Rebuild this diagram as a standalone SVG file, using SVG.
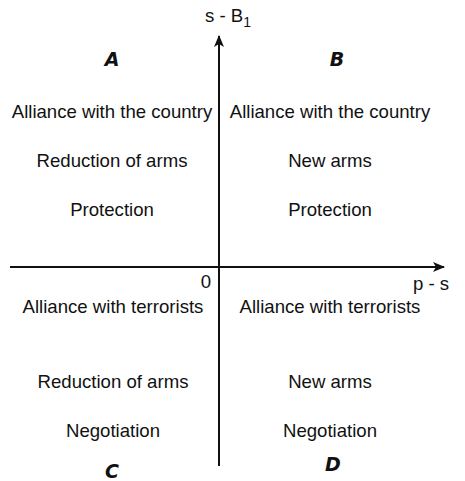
<svg xmlns="http://www.w3.org/2000/svg" width="465" height="481" viewBox="0 0 465 481">
<style>
text{font-family:"Liberation Sans",Arial,sans-serif;font-size:18.6px;fill:#111;text-anchor:middle}
.q{font-family:"DejaVu Sans",sans-serif;font-style:italic;font-weight:bold;font-size:19px}
.ax{stroke:#111;stroke-width:2;fill:none}
</style>
<defs>
<marker id="ah" viewBox="0 0 12 10" refX="11" refY="5" markerWidth="12" markerHeight="10" markerUnits="userSpaceOnUse" orient="auto">
<path d="M0,0 L12,5 L0,10 L3,5 Z" fill="#111"/>
</marker>
</defs>
<g id="connectors">
<line class="ax" x1="219" y1="466" x2="219" y2="36" marker-end="url(#ah)"/>
<line class="ax" x1="10" y1="267" x2="444" y2="267" marker-end="url(#ah)"/>
</g>
<g id="axis-labels">
<text x="228" y="22">s - B<tspan font-size="14" dy="5">1</tspan></text>
<text x="431" y="290">p - s</text>
<text x="206" y="288">0</text>
</g>
<g id="quadrant-A">
<text class="q" x="112" y="66">A</text>
<text x="112" y="118">Alliance with the country</text>
<text x="112" y="167">Reduction of arms</text>
<text x="112" y="216">Protection</text>
</g>
<g id="quadrant-B">
<text class="q" x="337" y="66">B</text>
<text x="330" y="118">Alliance with the country</text>
<text x="330" y="167">New arms</text>
<text x="330" y="216">Protection</text>
</g>
<g id="quadrant-C">
<text x="113" y="313">Alliance with terrorists</text>
<text x="113" y="388">Reduction of arms</text>
<text x="113" y="437">Negotiation</text>
<text class="q" x="112" y="478">C</text>
</g>
<g id="quadrant-D">
<text x="330" y="313">Alliance with terrorists</text>
<text x="330" y="388">New arms</text>
<text x="330" y="437">Negotiation</text>
<text class="q" x="333" y="471">D</text>
</g>
</svg>
